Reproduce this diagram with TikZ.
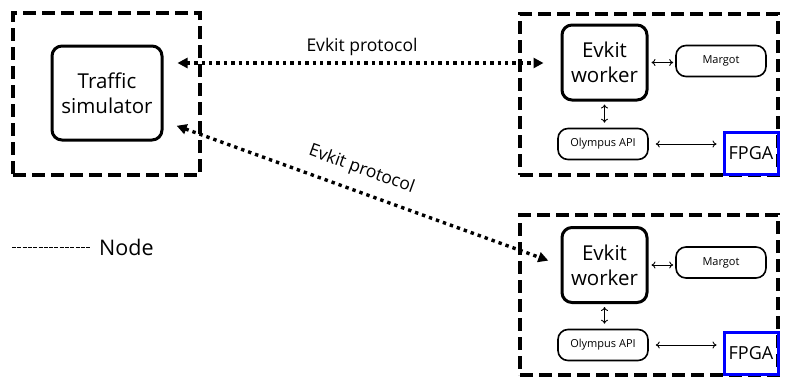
\documentclass[tikz,border=0pt]{standalone}
\usepackage{fontspec}
\setmainfont{Open Sans}
\usetikzlibrary{arrows.meta,calc}
\begin{document}
\begin{tikzpicture}[x=1pt,y=-1pt,
  hostbox/.style={draw,line width=3.4pt,dash pattern=on 13pt off 6pt,minimum width=#1},
  procbox/.style={draw,line width=3pt,rounded corners=10pt,align=center,font=\fontsize{20.5}{25}\selectfont,inner sep=0pt},
  svcbox/.style={draw,line width=1.6pt,rounded corners=10pt,font=\fontsize{11}{13}\selectfont,inner sep=0pt,minimum width=90pt,minimum height=31pt},
  fpgabox/.style={draw=blue,line width=3pt,font=\fontsize{18}{20}\selectfont,inner sep=0pt,minimum width=54pt,minimum height=42pt},
  proto/.style={line width=3.4pt,dash pattern=on 3.4pt off 4pt,{Triangle[length=10pt,width=10pt]}-{Triangle[length=10pt,width=10pt]}},
  link/.style={line width=0.9pt,{To[length=4pt,width=7pt]}-{To[length=4pt,width=7pt]}},
  lbl/.style={font=\fontsize{17.5}{20}\selectfont}]
\useasboundingbox (0,0) rectangle (787,383);

% host boundaries
\node[hostbox=187pt,minimum height=162pt] (h0) at (106.5,94) {};
\node[hostbox=258pt,minimum height=161pt] (h1) at (649,94.5) {};
\node[hostbox=258pt,minimum height=160pt] (h2) at (649,295) {};

% simulator
\node[procbox,minimum width=110pt,minimum height=94pt] (ts) at (107,93) {Traffic\\simulator};

% first worker node
\node[procbox,minimum width=85pt,minimum height=75pt] (w1) at (604.5,62.5) {Evkit\\worker};
\node[svcbox] (m1) at (721,61) {Margot};
\node[svcbox] (o1) at (603,144) {Olympus API};
\node[fpgabox] (f1) at (751,153) {FPGA};

% second worker node
\node[procbox,minimum width=85pt,minimum height=75pt] (w2) at (604.5,265) {Evkit\\worker};
\node[svcbox] (m2) at (721,262.5) {Margot};
\node[svcbox] (o2) at (603,345) {Olympus API};
\node[fpgabox] (f2) at (751,353.5) {FPGA};

% protocol links
\coordinate (p1) at ([yshift=30pt]ts.east);
\coordinate (p2) at ([yshift=-28pt]ts.east);
\draw[proto,shorten <=14pt,shorten >=17pt] (p1) -- (w1.west |- p1)
  node[lbl,midway,above=2pt] {Evkit protocol};
\draw[proto,shorten <=14pt,shorten >=13pt] (p2) -- (w2.west)
  node[lbl,pos=0.48,sloped,above=8pt] {Evkit protocol};

% local links
\foreach \i in {1,2}{
  \draw[link,shorten <=3pt,shorten >=2pt] (w\i.east) -- (w\i.east -| m\i.west);
  \draw[link,shorten <=3pt,shorten >=5pt] (w\i.south) -- (w\i.south |- o\i.north);
  \draw[link,shorten <=7pt,shorten >=6pt] (o\i.east) -- (o\i.east -| f\i.west);
}

% legend
\coordinate (lg) at (12,247);
\node[anchor=west,font=\fontsize{21.5}{24}\selectfont,inner sep=0pt] (lgt) at (99,247) {Node};
\draw[line width=0.7pt,dash pattern=on 4pt off 1.3pt] (lg) -- ($(lgt.west)+(-9,0)$);
\end{tikzpicture}
\end{document}
